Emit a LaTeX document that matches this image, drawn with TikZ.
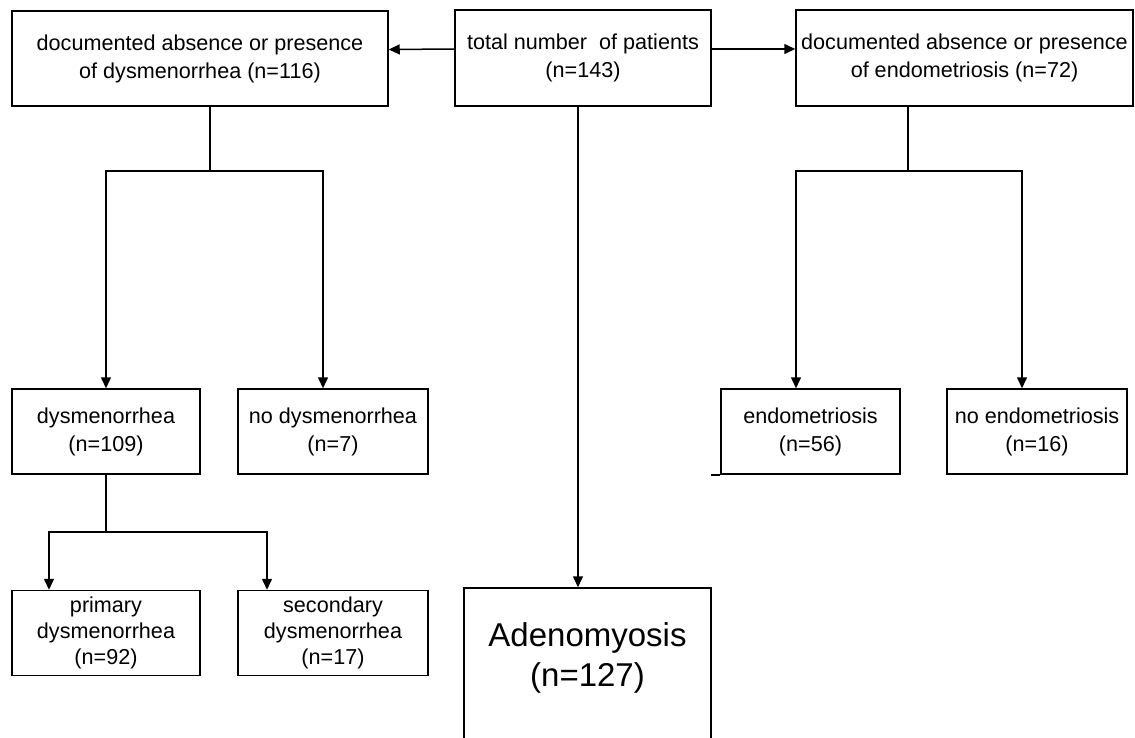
\documentclass[tikz,border=0pt]{standalone}
\usepackage{fontspec}
\setmainfont{Liberation Sans}
\usetikzlibrary{arrows.meta}
\begin{document}
\begin{tikzpicture}[x=1pt,y=-1pt,
  box/.style={draw,line width=1.5pt,rectangle,inner sep=0pt,align=center,
    font=\fontsize{21.6}{28}\selectfont},
  conn/.style={line width=1.5pt},
  arr/.style={conn,-{Triangle[length=11pt,width=10pt]}}]
\useasboundingbox (0,0) rectangle (1135,737);
% top row
\node[box,minimum width=376pt,minimum height=95pt] (tl) at (200,58.5)
  {documented absence or presence\\of dysmenorrhea (n=116)};
\node[box,minimum width=256pt,minimum height=96pt] (tm) at (583,58)
  {total number\ \ of patients\\(n=143)};
\node[box,minimum width=337pt,minimum height=96pt] (tr) at (964.5,58)
  {documented absence or presence\\of endometriosis (n=72)};
% second row
\node[box,minimum width=188pt,minimum height=85pt] (dys) at (106,431.5)
  {dysmenorrhea\\(n=109)};
\node[box,minimum width=190pt,minimum height=85pt] (nodys) at (333,431.5)
  {no dysmenorrhea\\(n=7)};
\node[box,minimum width=179pt,minimum height=85pt] (endo) at (810.5,431.5)
  {endometriosis\\(n=56)};
\node[box,minimum width=180pt,minimum height=85pt] (noendo) at (1037,431.5)
  {no endometriosis\\(n=16)};
% third row
\node[box,minimum width=188pt,minimum height=85pt,
  font=\fontsize{21.6}{26}\selectfont] (prim) at (106,633)
  {primary\\dysmenorrhea\\(n=92)};
\node[box,minimum width=190pt,minimum height=85pt,
  font=\fontsize{21.6}{26}\selectfont] (sec) at (333,633)
  {secondary\\dysmenorrhea\\(n=17)};
\node[box,minimum width=247pt,minimum height=212pt] (aden) at (587.5,694) {};
\node[align=center,inner sep=0pt,font=\fontsize{33}{40}\selectfont] (adentext)
  at (587.5,658) {Adenomyosis\\(n=127)};
% connectors
\draw[arr] ([yshift=9pt]tm.west) -- ([yshift=9pt]tl.east);
\draw[arr] ([yshift=9pt]tm.east) -- ([yshift=9pt]tr.west);
\coordinate (mx) at (578,0);
\draw[arr] (tm.south -| mx) -- (aden.north -| mx);
% left tree
\coordinate (jl) at (210,171);
\draw[conn] (tl.south -| jl) -- (jl);
\draw[arr] (jl) -| (dys.north);
\draw[arr] (jl) -| ([xshift=-10pt]nodys.north);
\coordinate (jd) at (106,532);
\draw[conn] (dys.south) -- (jd);
\draw[arr] (jd) -| ([xshift=-57pt]prim.north);
\draw[arr] (jd) -| ([xshift=-66pt]sec.north);
% right tree
\coordinate (jr) at (908,171);
\draw[conn] (tr.south -| jr) -- (jr);
\draw[arr] (jr) -| ([xshift=-14.5pt]endo.north);
\draw[arr] (jr) -| ([xshift=-15pt]noendo.north);
\draw[conn] (endo.south west) -- ++(-9,0);
\end{tikzpicture}
\end{document}
